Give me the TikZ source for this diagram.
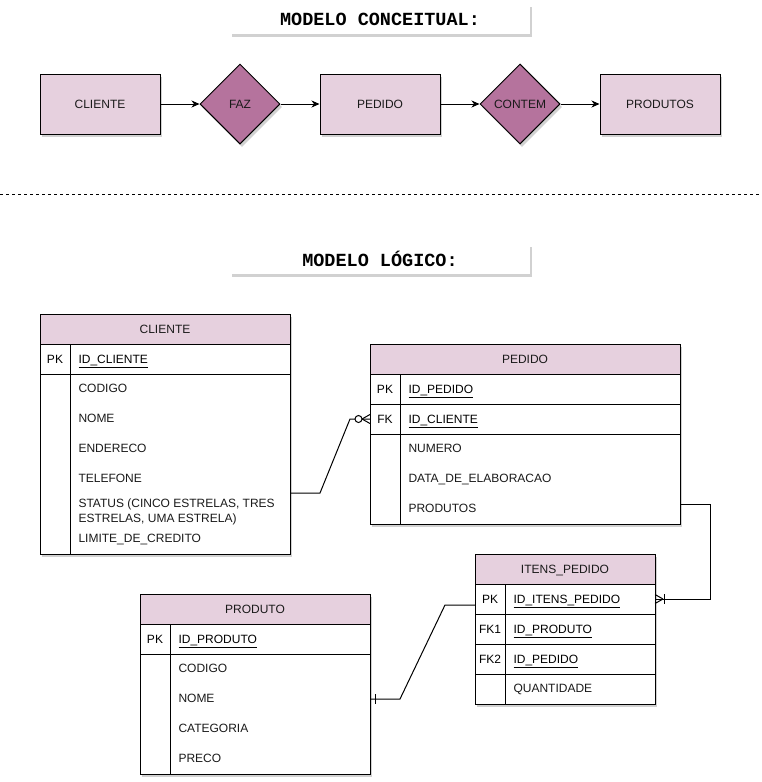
\documentclass[tikz,border=0pt]{standalone}
\usepackage{fontspec}
\setmainfont{Liberation Sans}
\setmonofont{Liberation Mono}
\usetikzlibrary{arrows.meta,shapes.geometric,shadows,positioning}

\definecolor{entfill}{HTML}{E6D0DE}
\definecolor{relfill}{HTML}{B5739D}
\definecolor{txtgray}{HTML}{1A1A1A}

\begin{document}
\begin{tikzpicture}[x=1pt,y=-1pt,line width=1pt,
  >={Stealth[length=8pt,width=7pt,inset=2.5pt]},
  font=\fontsize{12}{15}\selectfont,
  shadowed/.style={drop shadow={shadow xshift=2pt,shadow yshift=-3pt,fill=black!40,opacity=0.45}},
  titlebox/.style={fill=white,minimum width=300pt,minimum height=30pt,inner sep=0pt,
    font=\ttfamily\bfseries\fontsize{18.5}{20}\selectfont,shadowed},
  entbox/.style={draw,fill=entfill,minimum width=120pt,minimum height=60pt,text=txtgray,shadowed},
  relbox/.style={diamond,draw,fill=relfill,minimum width=80pt,minimum height=80pt,
    inner sep=0pt,text=txtgray,shadowed},
  tabbody/.style={fill=white,shadowed},
  field/.style={anchor=base west,yshift=-4.8pt,inner sep=0pt,text=txtgray,align=left},
  keyfield/.style={anchor=base west,yshift=-4.8pt,inner sep=0pt},
  keylbl/.style={anchor=base,yshift=-4.8pt,inner sep=0pt},
  tabhead/.style={anchor=base,yshift=-4.8pt,inner sep=0pt,text=txtgray}]

\useasboundingbox (0,0) rectangle (762,782);

% modelo conceitual
\node[titlebox] (titConc) at (380,19) {MODELO CONCEITUAL:};

\node[entbox] (cCli) at (100,104) {CLIENTE};
\node[relbox] (cFaz) at (240,104) {FAZ};
\node[entbox] (cPed) at (380,104) {PEDIDO};
\node[relbox] (cCon) at (520,104) {CONTEM};
\node[entbox] (cPro) at (660,104) {PRODUTOS};

\draw[->] (cCli) -- (cFaz);
\draw[->] (cFaz) -- (cPed);
\draw[->] (cPed) -- (cCon);
\draw[->] (cCon) -- (cPro);

\draw[dash pattern=on 3pt off 3pt] (0,194) -- (762,194);

% modelo logico
\node[titlebox] (titLog) at (380,259) {MODELO LÓGICO:};

% CLIENTE
\path[tabbody] (40,314) rectangle (290,554);
\fill[entfill] (40,314) rectangle (290,344);
\draw (40,314) rectangle (290,554);
\draw (40,344) -- (290,344);
\draw (40,374) -- (290,374);
\draw (70,344) -- (70,554);
\node[tabhead] (cliHead) at (165,329) {CLIENTE};
\node[keylbl] (cliPKl) at (55,359) {PK};
\node[keyfield] (cliPK) at (78,359) {\underline{ID\_CLIENTE}};
\node[field] (cliCod) at (78,388) {CODIGO};
\node[field] (cliNom) at (78,418) {NOME};
\node[field] (cliEnd) at (78,448) {ENDERECO};
\node[field] (cliTel) at (78,478) {TELEFONE};
\node[field] (cliSta) at (78,518) {STATUS (CINCO ESTRELAS, TRES\\ESTRELAS, UMA ESTRELA)};
\node[field] (cliLim) at (78,538) {LIMITE\_DE\_CREDITO};
\coordinate (cliOut) at (290,493);

% PEDIDO
\path[tabbody] (370,344) rectangle (680,524);
\fill[entfill] (370,344) rectangle (680,374);
\draw (370,344) rectangle (680,524);
\draw (370,374) -- (680,374);
\draw (370,404) -- (680,404);
\draw (370,434) -- (680,434);
\draw (400,374) -- (400,524);
\node[tabhead] (pedHead) at (525,359) {PEDIDO};
\node[keylbl] (pedPKl) at (385,389) {PK};
\node[keyfield] (pedPK) at (408,389) {\underline{ID\_PEDIDO}};
\node[keylbl] (pedFKl) at (385,419) {FK};
\node[keyfield] (pedFK) at (408,419) {\underline{ID\_CLIENTE}};
\node[field] (pedNum) at (408,448) {NUMERO};
\node[field] (pedDat) at (408,478) {DATA\_DE\_ELABORACAO};
\node[field] (pedPro) at (408,508) {PRODUTOS};
\coordinate (pedIn) at (370,419);
\coordinate (pedOut) at (680,504);

% ITENS_PEDIDO
\path[tabbody] (475,554) rectangle (655,704);
\fill[entfill] (475,554) rectangle (655,584);
\draw (475,554) rectangle (655,704);
\foreach \yy in {584,614,644,674}
  \draw (475,\yy) -- (655,\yy);
\draw (505,584) -- (505,704);
\node[tabhead] (itnHead) at (565,569) {ITENS\_PEDIDO};
\node[keylbl] (itnPKl) at (490,599) {PK};
\node[keyfield] (itnPK) at (513,599) {\underline{ID\_ITENS\_PEDIDO}};
\node[keylbl] (itnFK1l) at (490,629) {FK1};
\node[keyfield] (itnFK1) at (513,629) {\underline{ID\_PRODUTO}};
\node[keylbl] (itnFK2l) at (490,659) {FK2};
\node[keyfield] (itnFK2) at (513,659) {\underline{ID\_PEDIDO}};
\node[field] (itnQtd) at (513,688) {QUANTIDADE};
\coordinate (itnInR) at (655,599);
\coordinate (itnInL) at (475,605);

% PRODUTO
\path[tabbody] (140,594) rectangle (370,774);
\fill[entfill] (140,594) rectangle (370,624);
\draw (140,594) rectangle (370,774);
\draw (140,624) -- (370,624);
\draw (140,654) -- (370,654);
\draw (170,624) -- (170,774);
\node[tabhead] (proHead) at (255,609) {PRODUTO};
\node[keylbl] (proPKl) at (155,639) {PK};
\node[keyfield] (proPK) at (178,639) {\underline{ID\_PRODUTO}};
\node[field] (proCod) at (178,668) {CODIGO};
\node[field] (proNom) at (178,698) {NOME};
\node[field] (proCat) at (178,728) {CATEGORIA};
\node[field] (proPre) at (178,758) {PRECO};
\coordinate (proOut) at (370,699);

% ligacoes
\draw (cliOut) -- ++(30,0) -- ([xshift=-20pt]pedIn) -- (pedIn);
\draw ([xshift=-8pt]pedIn) -- ([yshift=4.5pt]pedIn)
      ([xshift=-8pt]pedIn) -- ([yshift=-4.5pt]pedIn);
\draw[fill=white] ([xshift=-11.5pt]pedIn) circle (3.5pt);

\draw (pedOut) -- ++(30,0) |- (itnInR);
\draw ([xshift=8pt]itnInR) -- ([yshift=4.5pt]itnInR)
      ([xshift=8pt]itnInR) -- ([yshift=-4.5pt]itnInR);
\draw ([xshift=9.5pt,yshift=5pt]itnInR) -- ([xshift=9.5pt,yshift=-5pt]itnInR);

\draw (proOut) -- ++(30,0) -- ([xshift=-30pt]itnInL) -- (itnInL);
\draw ([xshift=5pt,yshift=5pt]proOut) -- ([xshift=5pt,yshift=-5pt]proOut);

\end{tikzpicture}
\end{document}
